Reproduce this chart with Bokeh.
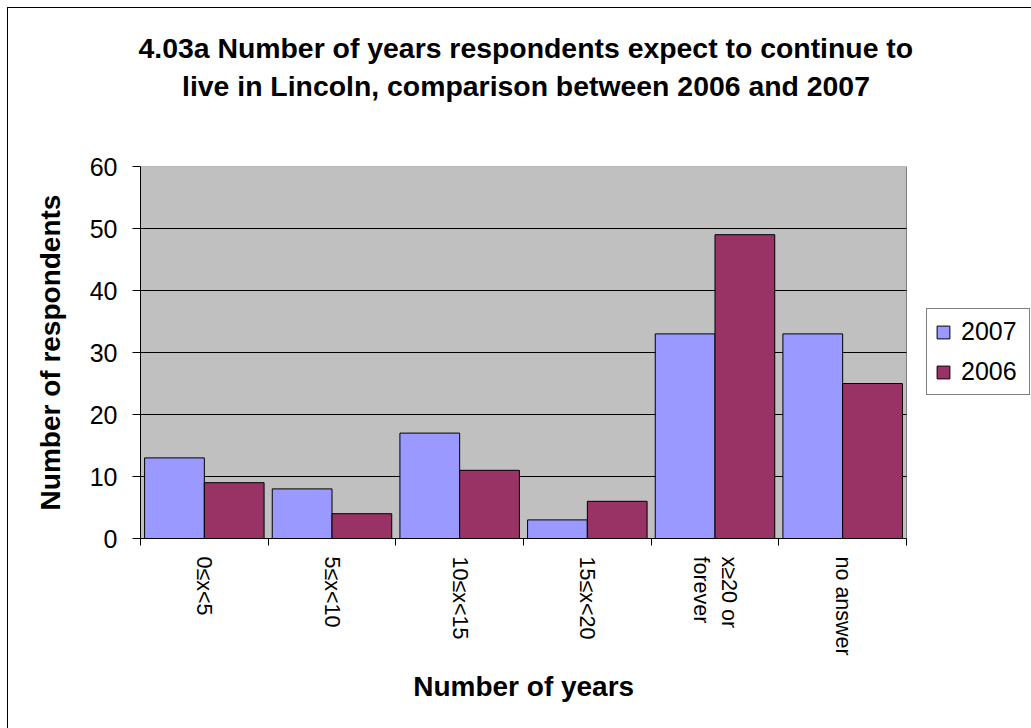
import math
from bokeh.plotting import figure
from bokeh.models import (Range1d, FixedTicker, Title, Legend, LegendItem,
                          ColumnDataSource, BoxAnnotation)
from bokeh.transform import dodge
from bokeh.embed import file_html
from bokeh.resources import INLINE

# ---- data ----
categories = ["0≤x<5", "5≤x<10", "10≤x<15", "15≤x<20", "x≥20 or\nforever", "no answer"]
values_2007 = [13, 8, 17, 3, 33, 33]
values_2006 = [9, 4, 11, 6, 49, 25]
series_names = ["2007", "2006"]
y_ticks = [0, 10, 20, 30, 40, 50, 60]
title_lines = [
    "4.03a Number of years respondents expect to continue to",
    "live in Lincoln, comparison between 2006 and 2007",
]
x_title = "Number of years"
y_title = "Number of respondents"

FONT = "Liberation Sans"
COL_2007 = "#9999FF"
COL_2006 = "#993366"

# ---- layout (pixels) ----
W, H = 1031, 728
FRAME_L, FRAME_T, FRAME_B = 140, 166, 538
AREA_R = 906            # right edge of the grey plot area
n = len(categories)
x_end = n * (W - FRAME_L) / (AREA_R - FRAME_L)

centers = [i + 0.5 for i in range(n)]
boundaries = list(range(n + 1))
source = ColumnDataSource(dict(x=centers, v2007=values_2007, v2006=values_2006))
grid_vals = y_ticks[1:-1]
grid_src = ColumnDataSource(dict(y=grid_vals, x0=[0] * len(grid_vals), x1=[n] * len(grid_vals)))

chart_border = ("linear-gradient(#000,#000) 7px 7px / 1px 100% no-repeat, "
                "linear-gradient(#000,#000) 7px 7px / 100% 1px no-repeat, #fff")

p = figure(
    width=W, height=H, title=None,
    x_range=Range1d(0, x_end), y_range=Range1d(y_ticks[0], y_ticks[-1]),
    output_backend="svg", toolbar_location=None,
    min_border_left=FRAME_L, min_border_top=FRAME_T, min_border_right=0,
    min_border_bottom=H - FRAME_B,
    styles={"background": chart_border},
)
p.background_fill_color = None
p.border_fill_color = None
p.outline_line_color = None
p.xgrid.visible = False
p.ygrid.visible = False

# grey plot area
p.add_layout(BoxAnnotation(left=0, right=n, bottom=y_ticks[0], top=y_ticks[-1],
                           fill_color="#C0C0C0", fill_alpha=1,
                           line_color="#808080", line_width=1, line_alpha=1,
                           level="underlay"))
# gridlines
p.segment(x0="x0", x1="x1", y0="y", y1="y", source=grid_src, line_color="black", line_width=1)

bw = 0.468
r1 = p.vbar(x=dodge("x", -bw / 2), top="v2007", width=bw, source=source,
            fill_color=COL_2007, line_color="black", line_width=1)
r2 = p.vbar(x=dodge("x", bw / 2), top="v2006", width=bw, source=source,
            fill_color=COL_2006, line_color="black", line_width=1)

# y axis
ya = p.yaxis[0]
ya.ticker = FixedTicker(ticks=y_ticks)
ya.axis_line_color = "black"
ya.major_tick_line_color = "black"
ya.major_tick_in = 0
ya.major_tick_out = 8
ya.minor_tick_line_color = None
ya.major_label_text_font = FONT
ya.major_label_text_font_size = "25px"
ya.major_label_text_color = "black"
ya.major_label_standoff = 15
ya.axis_label = y_title
ya.axis_label_text_font = FONT
ya.axis_label_text_font_size = "28px"
ya.axis_label_text_font_style = "bold"
ya.axis_label_text_color = "black"
ya.axis_label_standoff = 21

# x axis
xa = p.xaxis[0]
xa.bounds = (0, n)
xa.ticker = FixedTicker(ticks=centers, minor_ticks=boundaries)
xa.major_label_overrides = {c: lab for c, lab in zip(centers, categories)}
xa.major_tick_line_color = None
xa.minor_tick_line_color = "black"
xa.minor_tick_in = 0
xa.minor_tick_out = 7
xa.axis_line_color = "black"
xa.major_label_orientation = -math.pi / 2
xa.major_label_text_font = FONT
xa.major_label_text_font_size = "21.5px"
xa.major_label_text_color = "black"
xa.major_label_standoff = 11

# x-axis title, centred under the grey plot area (stacked below the axis)
p.add_layout(Title(text=x_title, align="left", offset=272.7, standoff=20,
                   text_font=FONT, text_font_size="28px", text_font_style="bold",
                   text_color="black"), "below")

# title: stacked upward from the frame (spacer, line 2, line 1)
TFS = "28.4px"
p.add_layout(Title(text=" ", standoff=31, text_font=FONT, text_font_size=TFS), "above")
p.add_layout(Title(text=title_lines[1], align="left", offset=41.5, standoff=0,
                   text_font=FONT, text_font_size=TFS, text_font_style="bold",
                   text_color="black"), "above")
p.add_layout(Title(text=title_lines[0], align="left", offset=-2, standoff=7,
                   text_font=FONT, text_font_size=TFS, text_font_style="bold",
                   text_color="black"), "above")

legend = Legend(items=[LegendItem(label=series_names[0], renderers=[r1]),
                       LegendItem(label=series_names[1], renderers=[r2])],
                location=(926 - FRAME_L, FRAME_B - 395))
legend.border_line_color = "black"
legend.border_line_width = 1
legend.background_fill_color = "white"
legend.background_fill_alpha = 1
legend.label_text_font = FONT
legend.label_text_font_size = "25px"
legend.label_text_color = "black"
legend.glyph_width = 16
legend.glyph_height = 16
legend.label_standoff = 10
legend.label_width = 60
legend.padding = 8
legend.spacing = 11
legend.margin = 0
p.add_layout(legend)

open("out.html", "w").write(file_html(p, INLINE))
